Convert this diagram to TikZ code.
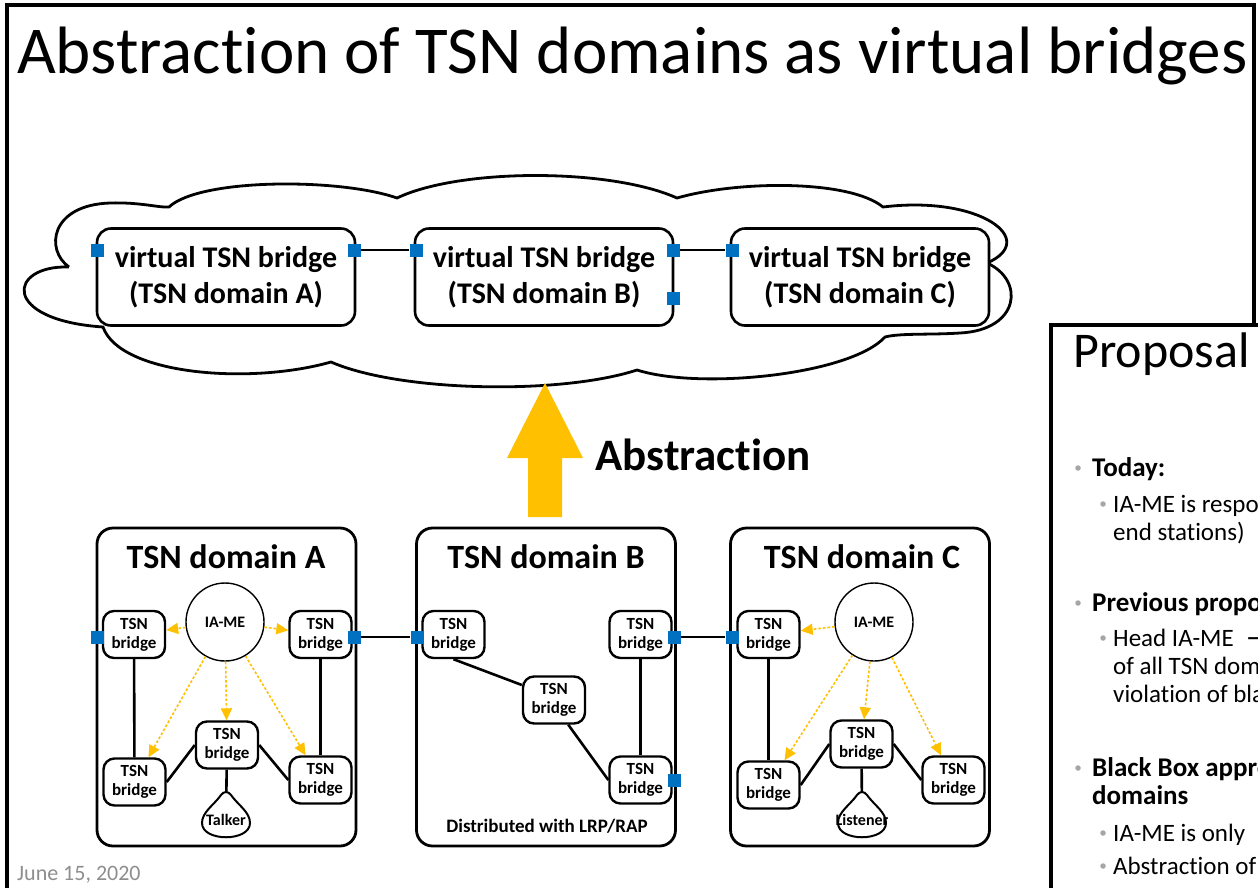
\documentclass[tikz,border=0pt]{standalone}
\usepackage{fontspec}
\setmainfont{Carlito}[Ligatures={NoCommon}]
\newfontfamily\symfont{DejaVu Sans}
\usetikzlibrary{arrows.meta}
\definecolor{portblue}{HTML}{0070C0}
\definecolor{gold}{HTML}{FFC000}
\definecolor{dategray}{HTML}{8E8E8E}
\definecolor{bulletgray}{HTML}{A6A6A6}
\newcommand\fsz[2]{\fontsize{#1}{#2}\selectfont}
% end-station outline: narrow rounded top, wide rounded bottom
\newcommand\pearshape[2]{%
  \draw[line width=2pt, fill=white]
    ({#1-5},{#2+3}) .. controls ({#1-2},{#2-1}) and ({#1+2},{#2-1}) .. ({#1+5},{#2+3})
    .. controls ({#1+12},{#2+13}) and ({#1+24},{#2+20}) .. ({#1+24},{#2+31})
    .. controls ({#1+24},{#2+50}) and ({#1-24},{#2+50}) .. ({#1-24},{#2+31})
    .. controls ({#1-24},{#2+20}) and ({#1-12},{#2+13}) .. cycle;}
\tikzset{
  vbox/.style={draw, line width=2.6pt, rounded corners=14pt, minimum width=258pt,
    minimum height=97pt, inner sep=0pt, align=center, fill=white,
    font=\bfseries\fsz{30}{36}},
  domainbox/.style={draw, line width=2.8pt, rounded corners=16pt, minimum width=259pt,
    minimum height=318pt, inner sep=0pt},
  dtitle/.style={font=\bfseries\fsz{34}{40}},
  bridge/.style={draw, line width=2.4pt, rounded corners=11pt, minimum width=62pt,
    minimum height=47pt, inner sep=0pt, align=center, fill=white,
    font=\bfseries\fsz{17}{19}},
  iame/.style={draw, circle, line width=1.4pt, minimum size=78pt, inner sep=0pt,
    fill=white, font=\bfseries\fsz{16}{18}},
  port/.style={fill=portblue, minimum size=13pt, inner sep=0pt},
  link/.style={line width=2.6pt},
  mgmt/.style={gold, line width=1.6pt, dash pattern=on 2.6pt off 2pt,
    -{Triangle[length=12pt,width=11pt]}},
  endst/.style={minimum width=49pt, minimum height=56pt, inner sep=0pt,
    font=\bfseries\fsz{16}{19}},
  dot/.style={circle, fill=bulletgray, minimum size=5.5pt, inner sep=0pt},
  lvlone/.style={anchor=base west, inner sep=0pt, font=\bfseries\fsz{27}{32}},
  lvltwo/.style={anchor=base west, inner sep=0pt, font=\fsz{25}{29}},
}
\begin{document}
\begin{tikzpicture}[x=1pt,y=-1pt]
\useasboundingbox (0,0) rectangle (1258,887);
\fill[white] (0,0) rectangle (1258,887);

% ---------- slide frame and title ----------
\draw[line width=4pt] (7,900) -- (7,5) -- (1254,5) -- (1254,330);
\node[anchor=base west, inner sep=0pt, font=\fsz{67}{72}] (title) at (17,73)
  {Abstraction of TSN domains as virtual bridges};

% ---------- cloud of virtual bridges ----------
\draw[line width=2.8pt, fill=white]
  (69,267) .. controls (45,250) and (50,205) .. (110,203)
  .. controls (140,202) and (160,208) .. (169,207)
  .. controls (200,178) and (340,178) .. (397,198)
  .. controls (460,168) and (610,168) .. (677,198)
  .. controls (740,180) and (850,180) .. (883,207)
  .. controls (980,195) and (1040,240) .. (987,263)
  .. controls (1025,280) and (1020,330) .. (960,333)
  .. controls (930,335) and (900,333) .. (885,337)
  .. controls (850,375) and (700,390) .. (637,370)
  .. controls (560,395) and (400,392) .. (331,362)
  .. controls (250,385) and (120,375) .. (103,327)
  .. controls (0,320) and (8,265) .. (69,267);

\node[vbox] (vA) at (226,277) {virtual TSN bridge\\(TSN domain A)};
\node[vbox] (vB) at (544,277) {virtual TSN bridge\\(TSN domain B)};
\node[vbox] (vC) at (860,277) {virtual TSN bridge\\(TSN domain C)};

\node[port] (vA1) at (97,250) {};
\node[port] (vA2) at (354,250) {};
\node[port] (vB1) at (416,250) {};
\node[port] (vB2) at (673,250) {};
\node[port] (vB3) at (673,298) {};
\node[port] (vC1) at (732,250) {};
\draw[link, line width=2.3pt] (vA2) -- (vB1);
\draw[link, line width=2.3pt] (vB2) -- (vC1);

% ---------- abstraction arrow ----------
\fill[gold] (528,517) -- (528,458) -- (507,458) -- (545,383) -- (583,458)
  -- (562,458) -- (562,517) -- cycle;
\node[font=\bfseries\fsz{45}{50}] (abs) at (703,455) {Abstraction};

% ---------- domain boxes ----------
\node[domainbox] (dA) at (226.5,687) {};
\node[domainbox] (dB) at (546,687) {};
\node[domainbox] (dC) at (860,687) {};
\node[dtitle] (tA) at (226,557) {TSN domain A};
\node[dtitle] (tB) at (546,557) {TSN domain B};
\node[dtitle] (tC) at (862,557) {TSN domain C};

% domain A
\node[iame] (iaA) at (225,622) {IA-ME};
\node[bridge] (tlA) at (134,634.5) {TSN\\bridge};
\node[bridge] (trA) at (320.5,634.5) {TSN\\bridge};
\node[bridge] (blA) at (134.5,782) {TSN\\bridge};
\node[bridge] (bmA) at (227,745) {TSN\\bridge};
\node[bridge] (brA) at (320.5,780) {TSN\\bridge};
\pearshape{226}{792}
\node[endst] (talker) at (226,820) {Talker};
\draw[link] (tlA) -- (blA);
\draw[link] (trA) -- (brA);
\draw[link] (bmA.west) -- (blA.east);
\draw[link] (bmA.east) -- (brA.west);
\draw[link] (bmA) -- (talker);
\draw[mgmt] (iaA) -- (tlA);
\draw[mgmt] (iaA) -- (trA);
\draw[mgmt] (iaA) -- (blA);
\draw[mgmt] (iaA) -- (bmA);
\draw[mgmt] (iaA) -- (brA);

% domain B
\node[bridge] (tlB) at (453.5,634.5) {TSN\\bridge};
\node[bridge] (mdB) at (554,700) {TSN\\bridge};
\node[bridge] (trB) at (640.5,634.5) {TSN\\bridge};
\node[bridge] (brB) at (640.5,780) {TSN\\bridge};
\draw[link] (tlB.south) -- (mdB.155);
\draw[link] (mdB.-60) -- (brB.west);
\draw[link] (trB) -- (brB);
\node[font=\bfseries\fsz{19}{22}] (lrp) at (547,826) {Distributed with LRP/RAP};

% domain C
\node[iame] (iaC) at (874,622) {IA-ME};
\node[bridge] (tlC) at (768.5,634.5) {TSN\\bridge};
\node[bridge] (blC) at (768.5,785) {TSN\\bridge};
\node[bridge] (bmC) at (861.5,744) {TSN\\bridge};
\node[bridge] (brC) at (953.5,780) {TSN\\bridge};
\pearshape{862}{792}
\node[endst] (listener) at (862,820) {Listener};
\draw[link] (tlC) -- (blC);
\draw[link] (bmC.west) -- (blC.east);
\draw[link] (bmC.east) -- (brC.west);
\draw[link] (bmC) -- (listener);
\draw[mgmt] (iaC) -- (tlC);
\draw[mgmt] (iaC) -- (blC);
\draw[mgmt] (iaC) -- (bmC);
\draw[mgmt] (iaC) -- (brC);

% ports between domains
\node[port] (pA1) at (97,637) {};
\node[port] (pA2) at (354,637) {};
\node[port] (pB1) at (417,637) {};
\node[port] (pB2) at (674,637) {};
\node[port] (pB3) at (674,780) {};
\node[port] (pC1) at (732,637) {};
\draw[link] (pA2) -- (pB1);
\draw[link] (pB2) -- (pC1);

% footer date
\node[anchor=base west, inner sep=0pt, text=dategray, font=\fsz{22}{26}] (date) at (17,880) {June 15, 2020};

% ---------- overlapping "Proposal" slide ----------
\fill[white] (1050,325) rectangle (1270,900);
\begin{scope}
  \clip (1052,327) rectangle (1258,887);
  \node[anchor=base west, inner sep=0pt, font=\fsz{50}{56}] (prop) at (1073,367) {Proposal};
  \node[dot] (b1) at (1078,468) {};
  \node[lvlone] (t1) at (1092,476) {Today:};
  \node[dot] (b2) at (1103,504) {};
  \node[lvltwo] (t2) at (1113,512) {IA-ME is responsible};
  \node[lvltwo] (t3) at (1113,540) {end stations)};
  \node[dot] (b3) at (1078,603) {};
  \node[lvlone] (t4) at (1092,611) {Previous proposal};
  \node[dot] (b4) at (1103,638) {};
  \node[lvltwo] (t5) at (1113,646) {Head IA-ME\hspace{13pt}{\symfont →}};
  \node[lvltwo] (t6) at (1113,674) {of all TSN domains};
  \node[lvltwo] (t7) at (1113,702) {violation of black};
  \node[dot] (b5) at (1078,768) {};
  \node[lvlone] (t8) at (1092,776) {Black Box approach};
  \node[lvlone] (t9) at (1092,804) {domains};
  \node[dot] (b6) at (1103,833) {};
  \node[lvltwo] (t10) at (1113,841) {IA-ME is only};
  \node[dot] (b7) at (1103,866) {};
  \node[lvltwo] (t11) at (1113,874) {Abstraction of};
\end{scope}
\draw[line width=4pt] (1050.5,900) -- (1050.5,325) -- (1270,325);
\end{tikzpicture}
\end{document}
